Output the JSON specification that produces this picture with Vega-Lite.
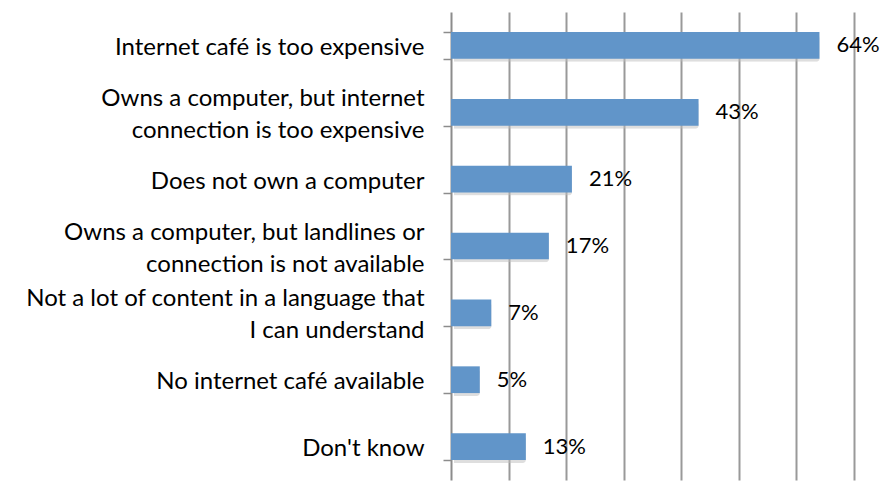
{
  "$schema": "https://vega.github.io/schema/vega-lite/v6.json",
  "width": 403,
  "height": 468,
  "autosize": "none",
  "padding": {"left": 451, "top": 12, "right": 35, "bottom": 1},
  "background": "white",
  "config": {"view": {"stroke": null}, "font": "Lato"},
  "data": {
    "values": [
      {"reason": "Internet café is too expensive", "pct": 0.64},
      {"reason": "Owns a computer, but internet|connection is too expensive", "pct": 0.43},
      {"reason": "Does not own a computer", "pct": 0.21},
      {"reason": "Owns a computer, but landlines or|connection is not available", "pct": 0.17},
      {"reason": "Not a lot of content in a language that|I can understand", "pct": 0.07},
      {"reason": "No internet café available", "pct": 0.05},
      {"reason": "Don't know", "pct": 0.13}
    ]
  },
  "encoding": {
    "y": {
      "field": "reason",
      "type": "nominal",
      "sort": null,
      "title": null,
      "scale": {"paddingInner": 0.6, "paddingOuter": 0.3},
      "axis": {
        "labelExpr": "indexof(datum.label, '|') >= 0 ? [split(datum.label, '|')[0], '\u2800', split(datum.label, '|')[1]] : ['', datum.label]",
        "labelFontSize": 24,
        "labelColor": "#000000",
        "labelLineHeight": 16,
        "labelOffset": -14,
        "labelPadding": 19,
        "labelLimit": 450,
        "tickBand": "extent",
        "tickSize": 8,
        "tickColor": "#8c8c8c",
        "tickWidth": 1.5,
        "domainColor": "#8c8c8c",
        "domainWidth": 2,
        "grid": false
      }
    },
    "x": {
      "field": "pct",
      "type": "quantitative",
      "title": null,
      "scale": {"domain": [0, 0.7]},
      "axis": {
        "values": [0.1, 0.2, 0.3, 0.4, 0.5, 0.6, 0.7],
        "labels": false,
        "ticks": false,
        "domain": false,
        "grid": true,
        "gridColor": "#999999",
        "gridWidth": 2,
        "gridOpacity": 1
      }
    }
  },
  "layer": [
    {
      "mark": {"type": "bar", "color": "#bdbdbd", "opacity": 0.5, "xOffset": 3, "yOffset": 3, "cornerRadius": 3}
    },
    {
      "mark": {"type": "bar", "color": "#6195c9"}
    },
    {
      "mark": {"type": "text", "align": "left", "dx": 17, "fontSize": 22, "color": "#000000"},
      "encoding": {"text": {"field": "pct", "type": "quantitative", "format": ".0%"}}
    }
  ]
}
